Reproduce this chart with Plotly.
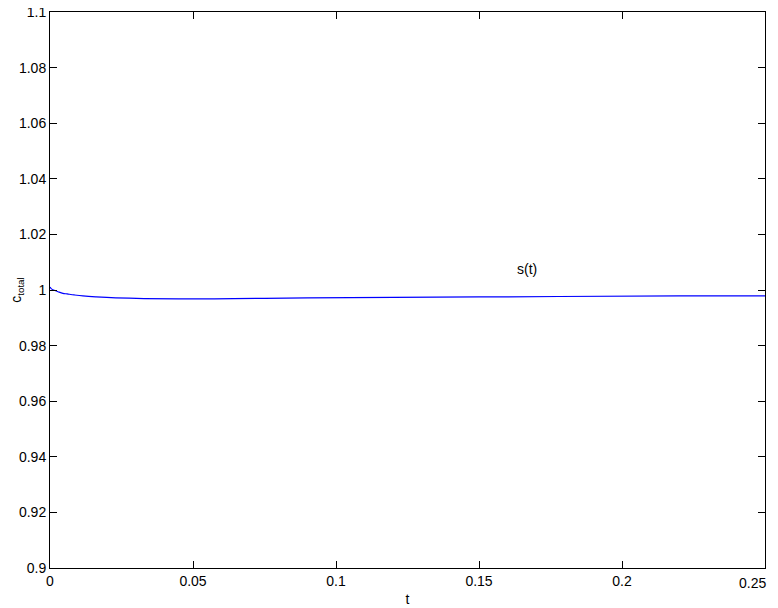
import plotly.graph_objects as go

# valores
t = [0, 0.0005, 0.0015, 0.003, 0.0045, 0.006, 0.0085, 0.0115, 0.016, 0.023,
     0.045, 0.09, 0.15, 0.22, 0.25]
c_total = [1.0011, 1.0004, 0.9999, 0.9993, 0.9988, 0.99858, 0.99822, 0.99786,
           0.99751, 0.99715, 0.9968, 0.99715, 0.9975, 0.99786, 0.9979]

x_ticks = [0, 0.05, 0.1, 0.15, 0.2, 0.25]
x_labels = ['0', '0.05', '0.1', '0.15', '0.2', '']  # 0.25 va como anotacion para que no se corte
y_ticks = [0.9, 0.92, 0.94, 0.96, 0.98, 1.0, 1.02, 1.04, 1.06, 1.08, 1.1]
y_labels = ['0.9', '0.92', '0.94', '0.96', '0.98', '1', '1.02', '1.04', '1.06', '1.08', '1.1']

fig = go.Figure()
fig.add_trace(go.Scatter(x=t, y=c_total, mode='lines', line=dict(color='rgb(0,0,255)', width=1.2, shape='spline'),
                         showlegend=False))

fig.add_annotation(x=0.1667, y=1.0075, text='s(t)', showarrow=False, font=dict(size=14, color='black'))
fig.add_annotation(x=0.25, y=0, xref='x', yref='paper', yshift=-5, xshift=3, text='0.25', showarrow=False,
                   xanchor='right', yanchor='top', font=dict(size=14, color='black'))

eje = dict(showline=True, linecolor='black', linewidth=1, mirror='ticks', ticks='inside', ticklen=7,
           tickcolor='black', showgrid=False, zeroline=False, automargin=False,
           ticklabeloverflow='allow', tickfont=dict(size=14, color='black'))

# el body del html tiene 8px de margen, por eso l y t van corridos
fig.update_layout(
    width=778, height=608,
    margin=dict(l=42, r=21, t=4, b=48),
    paper_bgcolor='white', plot_bgcolor='white',
    font=dict(family='Liberation Sans, Arial, sans-serif', size=14, color='black'),
    xaxis=dict(eje, range=[0, 0.25], tickvals=x_ticks, ticktext=x_labels,
               title=dict(text='t', standoff=6, font=dict(size=14))),
    yaxis=dict(eje, range=[0.9, 1.1], tickvals=y_ticks, ticktext=y_labels,
               title=dict(text='c<sub>total</sub>', standoff=0, font=dict(size=14))),
)

fig.write_html("out.html")
